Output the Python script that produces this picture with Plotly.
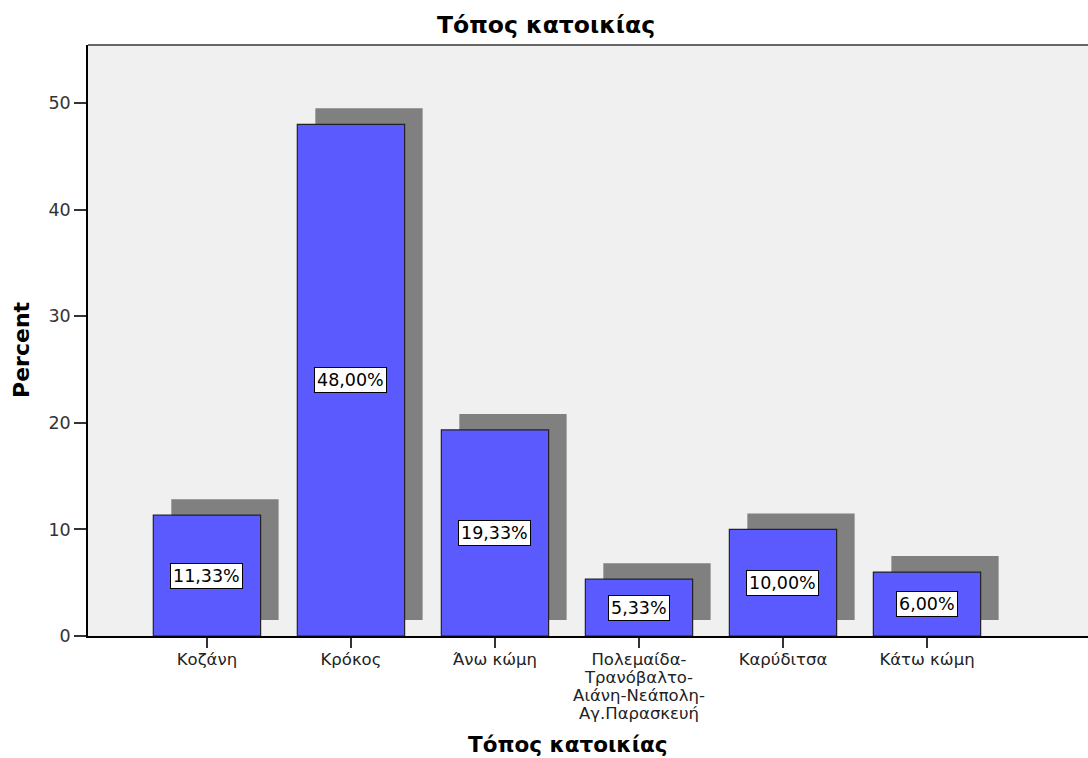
import plotly.graph_objects as go

categories = ["Κοζάνη", "Κρόκος", "Άνω κώμη",
              "Πολεμαίδα-<br>Τρανόβαλτο-<br>Αιάνη-Νεάπολη-<br>Αγ.Παρασκευή",
              "Καρύδιτσα", "Κάτω κώμη"]
percent = [11.33, 48.00, 19.33, 5.33, 10.00, 6.00]
y_ticks = [0, 10, 20, 30, 40, 50]

title_text = "Τόπος κατοικίας"
x_title = "Τόπος κατοικίας"
y_title = "Percent"

bar_w = 0.745
shadow_dx = 0.125   # category units
shadow_dy = 1.5     # percent units

fig = go.Figure()
fig.add_trace(go.Bar(
    x=categories, y=percent, base=shadow_dy,
    width=bar_w, offset=-bar_w / 2 + shadow_dx,
    marker=dict(color="#808080", line=dict(width=0)),
    hoverinfo="skip", showlegend=False,
))
fig.add_trace(go.Bar(
    x=categories, y=percent,
    width=bar_w, offset=-bar_w / 2,
    marker=dict(color="#5A5AFF", line=dict(color="#222222", width=1.2)),
    showlegend=False,
))

annotations = []
for c, v in zip(categories, percent):
    annotations.append(dict(
        x=c, y=v / 2, xref="x", yref="y",
        text=f"{v:.2f}".replace(".", ",") + "%",
        showarrow=False,
        font=dict(family="DejaVu Sans", size=17.5, color="#000000"),
        bgcolor="#FFFFFF", bordercolor="#000000", borderwidth=1, borderpad=2,
    ))

annotations.append(dict(
    x=0.458, y=1.034, xref="paper", yref="paper",
    text=f"<b>{title_text}</b>", showarrow=False,
    font=dict(family="DejaVu Sans", size=23.5, color="#000000"),
    xanchor="center", yanchor="middle",
))
annotations.append(dict(
    x=0.48, y=-0.184, xref="paper", yref="paper",
    text=f"<b>{x_title}</b>", showarrow=False,
    font=dict(family="DejaVu Sans", size=21.5, color="#000000"),
    xanchor="center", yanchor="middle",
))
annotations.append(dict(
    x=-0.066, y=0.484, xref="paper", yref="paper",
    text=f"<b>{y_title}</b>", showarrow=False, textangle=-90,
    font=dict(family="DejaVu Sans", size=22, color="#000000"),
    xanchor="center", yanchor="middle",
))

tick_text = [f'<span style="font-size:16.5px">{c}</span>' for c in categories]

fig.update_layout(
    width=1088, height=758,
    margin=dict(l=88, r=0, t=45, b=122),
    paper_bgcolor="#FFFFFF", plot_bgcolor="#F0F0F0",
    barmode="overlay",
    annotations=annotations,
    shapes=[dict(type="line", xref="paper", yref="paper",
                 x0=0, x1=1, y0=1, y1=1,
                 line=dict(color="#666666", width=2))],
)
fig.update_xaxes(
    type="category", range=[-0.826, 6.118],
    tickvals=categories, ticktext=tick_text,
    showgrid=False, zeroline=False,
    showline=True, linecolor="#000000", linewidth=1.5,
    ticks="outside", ticklen=10, tickcolor="#333333", tickwidth=1.5,
    tickfont=dict(family="DejaVu Sans", size=14, color="#222222"),
)
fig.update_yaxes(
    range=[0, 55.44], tickvals=y_ticks,
    showgrid=False, zeroline=False,
    showline=True, linecolor="#000000", linewidth=1.5,
    ticks="outside", ticklen=12, tickcolor="#333333", tickwidth=1.5,
    tickfont=dict(family="DejaVu Sans", size=17.5, color="#333333"),
)

fig.write_html("out.html",
               config={"displayModeBar": False},
               post_script="document.body.style.margin='0px';")
